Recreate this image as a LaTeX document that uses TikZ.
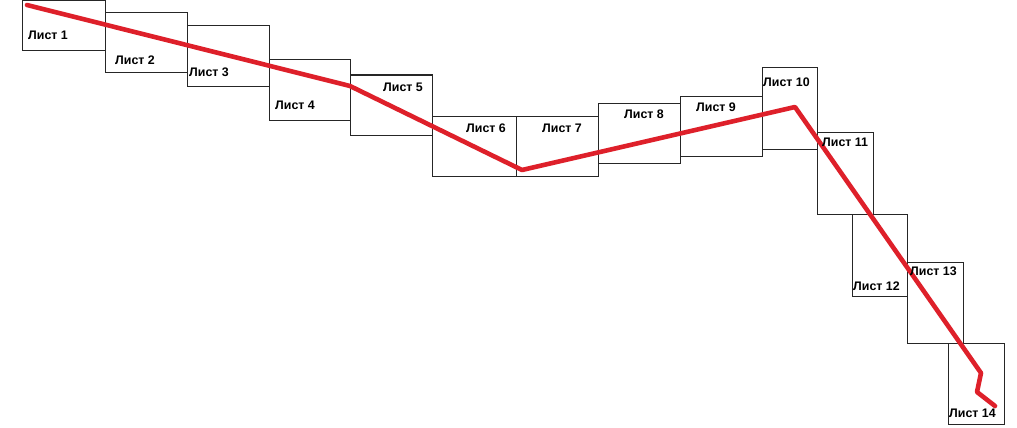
\documentclass[tikz,border=0pt]{standalone}
\usepackage{fontspec}
\setmainfont{Liberation Sans}
\definecolor{routered}{RGB}{222,32,42}
\begin{document}
\begin{tikzpicture}[x=1pt,y=-1pt,
    sheet/.style={draw=black!85, line width=1pt},
    sheetlabel/.style={anchor=west, inner sep=0pt, font=\bfseries\fontsize{12.4}{14}\selectfont},
    route/.style={draw=routered, line width=4.6pt, line join=round, line cap=round}]
\useasboundingbox (0,0) rectangle (1017,428);
% sheets
\draw[sheet] (22,1) rectangle (105,51);      % 1
\draw[sheet] (105,13) rectangle (187,73);    % 2
\draw[sheet] (187,26) rectangle (269,86);    % 3
\draw[sheet] (269,60) rectangle (350,120);   % 4
\draw[sheet] (350,75) rectangle (432,135);   % 5
\draw[sheet] (432,116) rectangle (516,176);  % 6
\draw[sheet] (516,116) rectangle (598,176);  % 7
\draw[sheet] (598,103) rectangle (680,163);  % 8
\draw[sheet] (680,96) rectangle (762,156);   % 9
\draw[sheet] (762,68) rectangle (817,149);   % 10
\draw[sheet] (817,132) rectangle (873,214);  % 11
\draw[sheet] (852,214) rectangle (907,296);  % 12
\draw[sheet] (907,262) rectangle (963,343);  % 13
\draw[sheet] (948,343) rectangle (1004,424); % 14
% route
\coordinate (r0) at (27,5);
\coordinate (r1) at (350,86);
\coordinate (r2) at (522,170);
\coordinate (r3) at (795,107);
\coordinate (r4) at (981,373);
\coordinate (r5) at (977,392);
\coordinate (r6) at (995,406);
\draw[route] (r0) -- (r1) -- (r2) -- (r3) -- (r4) -- (r5) -- (r6);
% labels
\node[sheetlabel] (l1) at (28,35) {Лист 1};
\node[sheetlabel] (l2) at (115,60) {Лист 2};
\node[sheetlabel] (l3) at (189,72) {Лист 3};
\node[sheetlabel] (l4) at (275,105) {Лист 4};
\node[sheetlabel] (l5) at (383,87) {Лист 5};
\node[sheetlabel] (l6) at (466,128) {Лист 6};
\node[sheetlabel] (l7) at (542,128) {Лист 7};
\node[sheetlabel] (l8) at (624,114) {Лист 8};
\node[sheetlabel] (l9) at (696,107) {Лист 9};
\node[sheetlabel] (l10) at (763,82) {Лист 10};
\node[sheetlabel] (l11) at (822,142) {Лист 11};
\node[sheetlabel] (l12) at (853,286) {Лист 12};
\node[sheetlabel] (l13) at (910,271) {Лист 13};
\node[sheetlabel] (l14) at (949,413) {Лист 14};
\end{tikzpicture}
\end{document}
